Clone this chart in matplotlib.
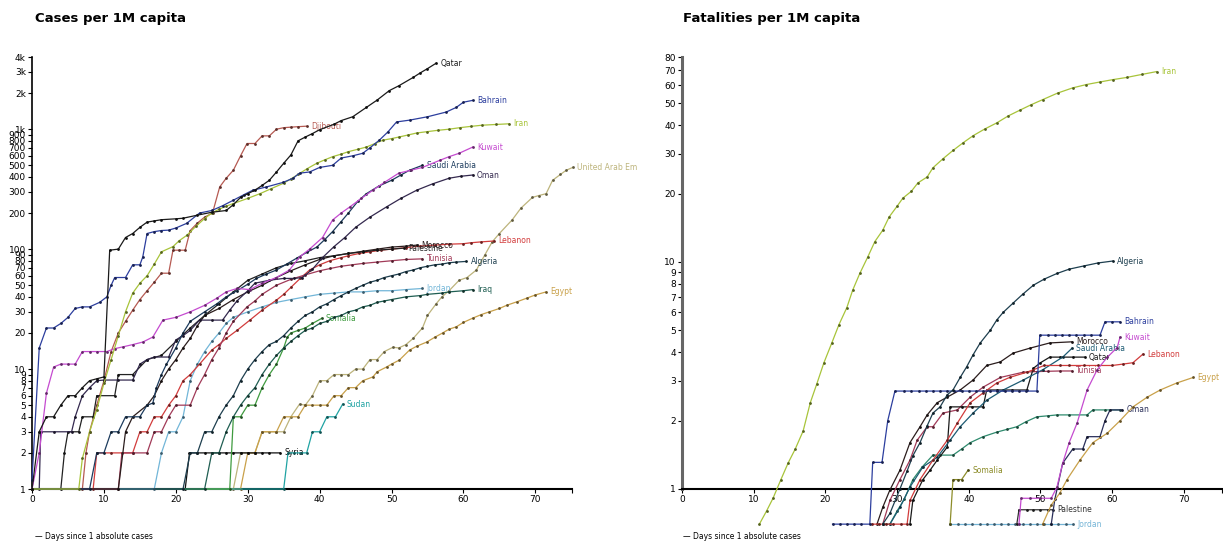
import numpy as np
import matplotlib.pyplot as plt
from matplotlib.colors import to_rgb
from matplotlib.ticker import FixedLocator, FixedFormatter, NullLocator

plt.rcParams['font.family'] = ['Liberation Sans Narrow', 'DejaVu Sans']

# ---- cases per 1M capita: (day, value) ----
c_qatar = [(0,1),(1,3),(2,4),(3,4),(4,5),(5,6),(6,6),(7,7),(8,8),(9,8.3),(10,8.6),(10.8,98),(12,100),(13,125),
           (14,135),(15,152),(16,168),(17,172),(18,176),(20,179),(21,181),(23,192),(25,203),(27,210),(28,235),
           (29,270),(30,290),(31,310),(32,340),(33,375),(34,440),(35,520),(36,610),(37,800),(38,860),(39,920),
           (40,990),(42,1100),(43,1180),(44.6,1270),(46.5,1520),(48,1750),(49.7,2100),(51,2300),(53,2700),
           (54,2950),(55,3200),(56.2,3550)]
c_bahrain = [(0,1.2),(1,15),(2,22),(3,22),(4,24),(5,27),(6,32),(7,33),(8,33),(9.4,36),(10.4,40),(11,50),(11.5,58),
             (13,58),(14,74),(15,74),(15.4,86),(16,135),(17,140),(18,143),(19,144),(20,150),(21.5,164),(23.3,200),
             (25,210),(26.5,230),(28,256),(29.5,285),(30.7,310),(32.6,330),(34.9,360),(36.3,390),(37.2,430),
             (38.6,440),(40,480),(41.8,500),(43,575),(44.6,600),(46,630),(47,700),(48.3,810),(49.5,950),
             (50.7,1150),(52.5,1190),(55,1270),(57.6,1390),(59,1520),(60,1680),(61.3,1740)]
c_iran = [(0,1),(6.5,1),(7,1.8),(8,3),(9,4.6),(10,7.6),(11,12),(12,19),(13,30),(14,43),(15,52),(16,60),(17,75),
          (18,95),(19.6,105),(20.5,118),(21.5,130),(22.8,155),(24,180),(25,200),(26,215),(27,228),(28,240),
          (30,265),(31.7,290),(33.3,320),(35,355),(36,385),(37,420),(38.3,470),(39.6,520),(40.7,555),(41.8,590),
          (43,620),(44,650),(45.3,680),(46.5,710),(47.7,760),(48.8,810),(50,835),(51,860),(52.3,895),(53.5,930),
          (55,955),(56.5,980),(58,1000),(59.5,1030),(61,1055),(62.6,1080),(64.5,1095),(66.4,1110)]
c_kuwait = [(0,1),(1,2),(2,6.3),(3,10.4),(4,11),(5,11),(6,11),(7,14),(8,14),(9,14),(10.4,14),(11.5,14.8),
            (12.6,15.3),(14,16),(15.4,16.8),(16.8,18.5),(18.2,25.6),(20,27),(22,30),(24,34),(25.7,39),(27,44),
            (28.5,47),(30.3,46),(32,52),(34,58),(35.8,67),(37.2,86),(38.6,100),(40.4,125),(41.8,175),(43,200),
            (44.2,225),(45.8,265),(47.4,310),(49,360),(51,430),(52.7,455),(54.3,480),(56.7,550),(58,590),
            (59.4,630),(61.3,710)]
c_saudi = [(0,1),(8,1),(9,2),(10,2),(11,3),(12,3),(13,4),(15,4),(16,5),(16.8,5.2),(17.3,7),(18,9),(18.7,11),
           (20,15),(21,20),(22,25),(24,30),(25.7,35),(27,40),(28.5,45),(30,51),(31.2,57),(32.6,62),(34,67),
           (35.4,75),(36.8,84),(38.2,94),(39.6,104),(40.7,120),(41.8,140),(43,170),(44,200),(45.3,250),
           (46.5,290),(48.2,335),(50,375),(51.3,415),(52.5,455),(54.3,500)]
c_oman = [(0,1),(1,1),(1.2,3),(3,3),(5.5,3),(6,4),(7,6),(8,7),(9,8),(10,8.1),(12,8.1),(14,8.1),(15,11),(16,12),
          (17,12.6),(19,12.6),(20,17.5),(21,19),(22,21),(23.3,25.6),(25,25.6),(26.5,25.6),(27.5,31),(28.5,37),
          (30,45),(31,52),(33,55),(35,57),(36.5,57),(37.6,58),(39,68),(40.4,85),(42,105),(43.5,125),(45,152),
          (47,185),(49.3,225),(51.3,265),(53.5,310),(55.7,350),(58,390),(59.6,405),(61.3,415)]
c_palestine = [(0,1),(4,1),(4.5,2),(5,3),(6.5,3),(7,4),(8.5,4),(9,6),(11.5,6),(12,9),(14,9),(16,12),(18,13),
               (20,17),(22,22),(24,28),(26,35),(28,44),(30,55),(32,62),(34,70),(36,76),(38,80),(40,85),(42,88),
               (44,92),(46,95),(48,98),(50,100),(51.8,102)]
c_morocco = [(0,1),(12,1),(13,3),(14,4),(16,5),(17,6),(18,8),(19,10),(20,12),(21,15),(22,18),(23,23),(24,28),
             (26,32),(28,38),(30,44),(32,50),(34,58),(36,66),(38,74),(40,82),(42,88),(44,92),(46,96),(48,100),
             (50,104),(52,106),(53.5,108)]
c_tunisia = [(0,1),(12,1),(12.5,2),(14,2),(16,2),(17,3),(18,3),(19,4),(20,5),(22,5),(23,7),(24,9),(25,12),
             (26,15),(27,20),(28,25),(29.9,33),(31,37),(32,42),(34,50),(36,56),(38,61),(40,66),(41.5,69),(43,72),
             (44.5,74),(46,76),(48,78),(50,80),(52,82),(54.3,83)]
c_lebanon = [(0,1),(8.5,1),(9,2),(11,2),(14,2),(15,3),(16,3),(17,4),(18,4),(19,5),(20,6),(21,8),(22,9),
             (23.3,11),(25,14.4),(26,16),(27,18),(28.5,21),(30.3,25.6),(32,31),(34,37.6),(35,42),(36,48),
             (37.3,57),(38.6,67),(40,74),(41.4,80),(43,85),(44,88),(45.5,92),(47,95),(48.5,98),(50,100),
             (52,103),(54,106),(56,108),(58,110),(60,111),(61,113),(62.5,115),(64.3,117)]
c_algeria = [(0,1),(21,1),(22,2),(23,2),(24,3),(25,3),(26,4),(27,5),(28,6),(29,8),(30,10),(31,12),(32,14),
             (33,16),(34,17),(35,19),(36,22),(37,25),(38,28),(39,30),(40,33),(41,35),(42,38),(43,41),(44,44),
             (45,47),(46,50),(47,53),(48,55),(49,58),(50,60),(51,62),(52,65),(53,67),(54,70),(55,72),(56,74),
             (57,75),(58,77),(59,78),(60.4,79)]
c_jordan = [(0,1),(17,1),(18,2),(19,3),(20,3),(21,4),(22,8),(23,11),(24,14),(25,17),(26,20),(27,24),(28,27),
            (30,30),(32,33),(34,36),(36,38),(38,40),(40,42),(42,43),(44,44),(46,44),(48,45),(50,45),(52,46),
            (54.3,47)]
c_iraq = [(0,1),(24,1),(25,2),(26,2),(27,3),(28,4),(29,5),(30,6),(31,7),(32,9),(33,11),(34,13),(35,15),(36,17),
          (37,19),(38,21),(39,22),(40,24),(41,25),(42,27),(43,28),(44,30),(45,31),(46,33),(47,34),(48,36),
          (49,37),(50,38),(52,40),(54,41),(55,42),(57,43),(58,44),(60,45),(61.3,46)]
c_somalia = [(0,1),(27.5,1),(28,4),(29,4),(30,5),(31,5),(32,7),(33,9),(34,11),(35,15),(35.5,18.5),(36,20),
             (37,21),(38,22),(39,24),(40.3,26.5)]
c_sudan = [(0,1),(35,1),(35.6,2),(36.5,2),(37.4,2),(38.2,2),(39,3),(40,3),(41,4),(42.2,4),(43.2,5.1)]
c_syria = [(0,1),(21.3,1),(21.9,2),(23,2),(24,2),(25,2),(26,2),(27,2),(28,2),(29,2),(30,2),(31,2),(32,2),
           (33,2),(34.5,2)]
c_egypt = [(0,1),(29,1),(30,2),(31,2),(32,3),(34,3),(35,4),(37,4),(38,5),(39,5),(40,5),(41,5),(42,6),(43,6),
           (44,7),(45,7),(46,8),(47.4,8.6),(48,9.5),(49.3,10.4),(50,11),(51.1,11.9),(52.5,14.4),(53.5,15.5),
           (54.9,16.8),(56,18.4),(57.1,20),(58,21.5),(59,22.5),(60,24.5),(61.3,26.6),(62.5,28.5),(63.6,30),
           (65,32),(66,34),(67.5,36.5),(68.8,39),(70,41.5),(71.5,44)]
c_uae = [(0,1),(28,1),(29,2),(30,2),(31,2),(32,3),(33,3),(34,3),(35,3),(36,4),(37.2,5.1),(38,5),(39,6),(40,8),
         (41,8),(42,9),(43,9),(44,9),(45,10),(46,10),(47,12),(48,12),(49,14),(50.2,15.2),(51,15),(52,16),(53,18),
         (54.3,22),(55,28),(56.2,35),(57,40),(58,45),(59.4,55),(60.5,58),(61.8,67),(63,90),(64,115),(65,135),
         (66.8,176),(68,220),(69.6,270),(70.5,280),(71.5,290),(72.4,375),(73.5,420),(74.3,455),(75.2,480)]
c_djibouti = [(0,1),(7,1),(7.5,2),(8,3),(9,5),(10,8),(11,14),(12,20),(13,25),(14,31),(15,38),(16,45),(17,53),
              (18,63),(19,63),(19.6,98),(20.5,98),(21.3,98),(22,143),(23,165),(24,185),(25.1,200),(26.1,330),
              (27,390),(28,455),(29,600),(29.9,760),(31,760),(32,880),(33,880),(34,1000),(35,1030),(36,1040),
              (37,1050),(38.2,1060)]

# ---- fatalities per 1M capita ----
f_iran = [(10.8,0.7),(11.8,0.8),(12.7,0.91),(13.8,1.1),(14.8,1.3),(15.8,1.5),(16.9,1.8),(17.9,2.4),(18.8,2.9),
          (19.8,3.6),(20.9,4.4),(21.9,5.3),(23,6.3),(23.8,7.5),(24.8,8.9),(25.9,10.5),(26.9,12.3),(28,13.8),
          (28.9,15.8),(30,17.6),(30.8,19.1),(32,20.5),(32.9,22.3),(34.2,23.7),(35,26),(36.4,28.5),(37.8,31),
          (39.2,33.5),(40.6,36),(42.2,38.5),(43.9,41),(45.5,44),(47.1,46.6),(48.7,49.3),(50.3,51.9),(52.4,55.5),
          (54.5,58.5),(56.4,60.5),(58.3,62.1),(60.1,63.6),(62,65),(64.1,67),(66.2,69)]
f_algeria = [(28,0.7),(29,0.78),(30.4,1.0),(31.4,1.2),(32.2,1.4),(33.2,1.6),(34.2,1.9),(35,2.16),(36,2.3),
             (37,2.6),(37.8,2.73),(38.8,3.1),(39.7,3.45),(40.6,3.9),(41.6,4.4),(43,5.0),(43.9,5.55),(44.8,6.0),
             (46.2,6.6),(47.5,7.2),(49,7.9),(50.5,8.4),(52.3,8.9),(54,9.3),(56,9.6),(58,9.9),(60.1,10.1)]
f_bahrain = [(21,0.7),(22,0.7),(23,0.7),(24,0.7),(25,0.7),(26.2,0.7),(26.6,1.31),(27.9,1.31),(28.7,2.0),
             (29.7,2.7),(31,2.7),(32,2.7),(33,2.7),(34,2.7),(35,2.7),(36,2.7),(37,2.7),(38,2.7),(39,2.7),
             (40,2.7),(41,2.7),(42,2.7),(43,2.7),(44,2.7),(45,2.7),(46,2.7),(47,2.7),(48,2.7),(49.5,2.7),
             (49.9,4.76),(51,4.76),(52,4.76),(53,4.76),(54,4.76),(55,4.76),(56,4.76),(57,4.76),(58.3,4.76),
             (59,5.45),(60,5.45),(61.1,5.45)]
f_kuwait = [(47,0.7),(47.3,0.91),(48.5,0.91),(50,0.91),(51.5,0.91),(52.3,1.02),(53.1,1.3),(54,1.6),(55.1,1.95),
            (56.5,2.73),(57.9,3.35),(59.3,3.8),(60.7,4.2),(61.1,4.67)]
f_lebanon = [(26.5,0.7),(27.5,0.7),(28.5,0.7),(29.5,0.7),(30.5,0.7),(31.4,0.7),(31.8,0.89),(33.2,1.1),(35,1.34),
             (37,1.64),(38.4,1.95),(40.2,2.4),(42,2.65),(43.9,2.93),(45.7,3.1),(48.1,3.27),(49,3.35),(50.5,3.5),
             (52.7,3.5),(54,3.5),(56,3.5),(58,3.5),(60,3.5),(61.5,3.55),(62.9,3.6),(64.3,3.93)]
f_egypt = [(50.3,0.7),(51.5,0.85),(52.7,0.96),(53.7,1.1),(55.5,1.34),(57.3,1.6),(59.3,1.76),(61.1,2.0),
           (62.9,2.3),(64.9,2.54),(66.7,2.73),(69,2.93),(71.3,3.1)]
f_oman = [(51.5,0.7),(52,0.9),(53.1,1.3),(54.5,1.5),(55.9,1.5),(56.5,1.7),(58.3,1.7),(59,2.0),(59.7,2.23),
          (61.4,2.23)]
f_iraq = [(28,0.7),(29,0.7),(30,0.8),(31,0.9),(32.2,1.1),(33.5,1.25),(35,1.41),(36,1.41),(37.8,1.41),(39,1.5),
          (40.2,1.6),(42,1.7),(43.9,1.78),(45.3,1.83),(46.7,1.88),(48,1.98),(49.5,2.08),(51,2.1),(52.3,2.12),
          (54,2.12),(56.5,2.12),(57.3,2.23),(59,2.23),(61.1,2.23)]
f_morocco = [(27.2,0.7),(28,0.83),(29,0.99),(30.4,1.21),(31.8,1.6),(33.2,1.88),(34.2,2.12),(35.6,2.4),(37,2.54),
             (38.8,2.73),(40.6,3.02),(42.5,3.5),(44.4,3.63),(46.2,3.97),(48.5,4.17),(51.3,4.4),(54.4,4.45)]
f_saudi = [(29,0.7),(30.4,0.83),(31.8,1.02),(33.6,1.25),(35.6,1.38),(37.4,1.64),(38.8,1.88),(40.6,2.16),
           (42.5,2.46),(44.8,2.73),(47.6,3.02),(50.3,3.35),(53.1,3.81),(54.4,4.17)]
f_qatar = [(31.8,0.7),(32.2,0.89),(33.6,1.1),(34.6,1.21),(35.6,1.34),(37,1.53),(37.4,2.3),(39,2.3),(40.5,2.3),
           (42,2.3),(42.5,2.73),(44,2.73),(46,2.73),(48.1,2.73),(49,3.4),(50,3.6),(51.3,3.81),(52.7,3.81),
           (54.5,3.81),(56.2,3.81)]
f_tunisia = [(28,0.7),(29,0.89),(30.4,1.1),(31.8,1.34),(32.8,1.64),(34.2,1.88),(35,1.88),(36.4,2.16),(38.4,2.23),
             (40.2,2.54),(42,2.81),(44.4,3.1),(47.6,3.27),(49.5,3.29),(51,3.3),(52.7,3.31),(54.4,3.31)]
f_somalia = [(37.4,0.7),(37.8,1.1),(38.5,1.1),(39,1.1),(39.9,1.21)]
f_palestine = [(46.7,0.7),(47,0.81),(48.1,0.81),(49,0.81),(50,0.81),(51,0.81),(51.7,0.81)]
f_jordan = [(37.4,0.7),(38.5,0.7),(39.5,0.7),(40.5,0.7),(41.5,0.7),(42.5,0.7),(43.5,0.7),(44.5,0.7),(45.5,0.7),
            (46.5,0.7),(47.5,0.7),(48.5,0.7),(49.5,0.7),(50.5,0.7),(51.5,0.7),(52.5,0.7),(53.5,0.7),(54.5,0.7)]

cases_series = [
    ('Djibouti', c_djibouti, '#b65a52'),
    ('United Arab Em', c_uae, '#bdb47c'),
    ('Egypt', c_egypt, '#c9a14a'),
    ('Syria', c_syria, '#111111'),
    ('Sudan', c_sudan, '#1fa3a3'),
    ('Somalia', c_somalia, '#3f9b3f'),
    ('Iraq', c_iraq, '#1f5e52'),
    ('Jordan', c_jordan, '#72b6d8'),
    ('Algeria', c_algeria, '#1e3f4f'),
    ('Lebanon', c_lebanon, '#d23c3c'),
    ('Tunisia', c_tunisia, '#a13a58'),
    ('Morocco', c_morocco, '#2b1d1d'),
    ('Palestine', c_palestine, '#222222'),
    ('Oman', c_oman, '#34294f'),
    ('Saudi Arabia', c_saudi, '#1d3c5e'),
    ('Kuwait', c_kuwait, '#c54bd0'),
    ('Iran', c_iran, '#a8c43a'),
    ('Bahrain', c_bahrain, '#2c3e9e'),
    ('Qatar', c_qatar, '#1a1a1a'),
]
fatal_series = [
    ('Jordan', f_jordan, '#74b4d6'),
    ('Palestine', f_palestine, '#333333'),
    ('Somalia', f_somalia, '#8d8d2a'),
    ('', f_iraq, '#2e8b6e'),
    ('Tunisia', f_tunisia, '#a13a58'),
    ('Qatar', f_qatar, '#1a1a1a'),
    ('Saudi Arabia', f_saudi, '#1d5b73'),
    ('Morocco', f_morocco, '#2b1d1d'),
    ('Oman', f_oman, '#2a2f5a'),
    ('Egypt', f_egypt, '#c9a14a'),
    ('Lebanon', f_lebanon, '#d23c3c'),
    ('Kuwait', f_kuwait, '#c54bd0'),
    ('Bahrain', f_bahrain, '#2c3e9e'),
    ('Algeria', f_algeria, '#1e3f4f'),
    ('Iran', f_iran, '#a8c43a'),
]

cases_ticks = [1, 2, 3, 4, 5, 6, 7, 8, 9, 10, 20, 30, 40, 50, 60, 70, 80, 90, 100,
               200, 300, 400, 500, 600, 700, 800, 900, 1000, 2000, 3000, 4000]
cases_labels = ['1', '2', '3', '4', '5', '6', '7', '8', '9', '10', '20', '30', '40', '50', '60', '70', '80',
                '90', '100', '200', '300', '400', '500', '600', '700', '800', '900', '1k', '2k', '3k', '4k']
fatal_ticks = [1, 2, 3, 4, 5, 6, 7, 8, 9, 10, 20, 30, 40, 50, 60, 70, 80]
fatal_labels = [str(t) for t in fatal_ticks]
day_ticks = [0, 10, 20, 30, 40, 50, 60, 70]


def dark(c, f=0.5):
    r, g, b = to_rgb(c)
    return (r * f, g * f, b * f)


def draw(ax, series):
    for name, pts, col in series:
        x = [p[0] for p in pts]
        y = [p[1] for p in pts]
        ax.plot(x, y, '-', color=col, lw=0.9, marker='o', ms=2.0, mfc=dark(col), mec=dark(col),
                mew=0, clip_on=False, zorder=3)
        if name:
            ax.annotate(name, (x[-1], y[-1]), xytext=(3, 0), textcoords='offset points',
                        fontsize=5.5, color=col, va='center', ha='left', annotation_clip=False)


def setup(ax, ylo, yhi, xhi, ticks, labels, spine_col, spine_w):
    ax.set_yscale('log')
    ax.set_ylim(ylo, yhi)
    ax.set_xlim(0, xhi)
    for s in ['top', 'right']:
        ax.spines[s].set_visible(False)
    ax.spines['bottom'].set_position(('data', 1))
    ax.spines['bottom'].set_linewidth(1.5)
    ax.spines['left'].set_bounds(1, yhi)
    ax.spines['left'].set_color(spine_col)
    ax.spines['left'].set_linewidth(spine_w)
    ax.yaxis.set_major_locator(FixedLocator(ticks))
    ax.yaxis.set_major_formatter(FixedFormatter(labels))
    ax.yaxis.set_minor_locator(NullLocator())
    ax.xaxis.set_major_locator(FixedLocator(day_ticks + [xhi]))
    ax.xaxis.set_major_formatter(FixedFormatter([str(d) for d in day_ticks] + ['']))
    ax.xaxis.set_minor_locator(NullLocator())
    ax.tick_params(axis='both', length=3, width=0.8, labelsize=6.5, pad=1.5)
    ax.set_facecolor('none')


fig = plt.figure(figsize=(12.23, 5.46), dpi=100)

ax1 = fig.add_axes([0.0262, 0.0995, 0.4415, 0.7961])
setup(ax1, 0.95, 4000, 75.1, cases_ticks, cases_labels, 'black', 1.2)
draw(ax1, cases_series)

ax2 = fig.add_axes([0.5576, 0.0348, 0.4415, 0.8608])
setup(ax2, 0.68, 80, 75.3, fatal_ticks, fatal_labels, '#666666', 2.2)
draw(ax2, fatal_series)

fig.text(0.0286, 0.966, 'Cases per 1M capita', fontsize=9.5, fontweight='bold', va='center',
         family=['DejaVu Sans'])
fig.text(0.5585, 0.966, 'Fatalities per 1M capita', fontsize=9.5, fontweight='bold', va='center',
         family=['DejaVu Sans'])
fig.text(0.0286, 0.018, '\u2014 Days since 1 absolute cases', fontsize=5.5, va='center')
fig.text(0.5585, 0.018, '\u2014 Days since 1 absolute cases', fontsize=5.5, va='center')

fig.savefig('out.png', dpi=100)
